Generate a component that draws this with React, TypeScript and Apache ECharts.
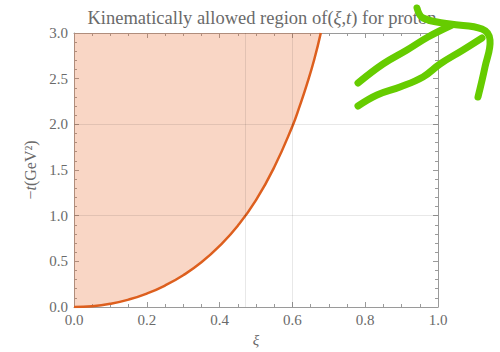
import React, { useEffect, useRef } from "react";
import * as echarts from "echarts";

// Curve -t_min(ξ)
const xiValues = [0, 0.05, 0.1, 0.15, 0.2, 0.25, 0.3, 0.35, 0.4, 0.45, 0.5, 0.55, 0.6, 0.62, 0.64, 0.66, 0.678];
const tValues = [0, 0.009, 0.036, 0.081, 0.147, 0.235, 0.348, 0.49, 0.67, 0.89, 1.17, 1.53, 1.98, 2.2, 2.44, 2.71, 3.0];

const xGridLines = [0.47, 0.6];
const yGridLines = [1.0, 2.0];

const xTicks = [0, 0.2, 0.4, 0.6, 0.8, 1.0];
const yTicks = [0, 0.5, 1.0, 1.5, 2.0, 2.5, 3.0];

const FONT = "'Liberation Serif', 'DejaVu Serif', serif";
const GREY_TEXT = "#6a6a6a";
const AXIS = "#9a9a9a";

export default function App() {
  const ref = useRef<HTMLDivElement>(null);
  useEffect(() => {
    if (!ref.current) return;
    const chart = echarts.init(ref.current, null, { renderer: "svg" });
    const curve = xiValues.map((x, i) => [x, tValues[i]]);
    const tickLine = (len: number) => ({ show: true, inside: true, length: len, lineStyle: { color: AXIS, width: 1 } });
    const axisCommon = {
      axisLine: { show: true, onZero: false, lineStyle: { color: AXIS, width: 1 } },
      splitLine: { show: false },
    };
    chart.setOption({
      animation: false,
      backgroundColor: "#fff",
      title: {
        text: "{n|Kinematically allowed region of(}{i|ξ}{n|,}{i|t}{n|) for proton}",
        left: 257,
        textAlign: "center",
        top: 3,
        textStyle: {
          rich: {
            n: { fontFamily: FONT, fontSize: 18.5, color: GREY_TEXT, fontWeight: "normal" },
            i: { fontFamily: FONT, fontSize: 18.5, color: GREY_TEXT, fontStyle: "italic", fontWeight: "normal" },
          },
        },
      },
      grid: { left: 74, right: 62, top: 33, bottom: 45 },
      xAxis: [
        {
          type: "value",
          position: "bottom",
          min: 0,
          max: 1,
          interval: 0.2,
          ...axisCommon,
          axisTick: tickLine(5),
          minorTick: { show: true, splitNumber: 4, length: 3, lineStyle: { color: AXIS } },
          axisLabel: {
            fontFamily: FONT,
            fontSize: 15,
            color: GREY_TEXT,
            margin: 5,
            formatter: (v: number) => (xTicks.includes(Math.round(v * 10) / 10) ? v.toFixed(1) : ""),
          },
          name: "ξ",
          nameLocation: "middle",
          nameGap: 25,
          nameTextStyle: { fontFamily: FONT, fontSize: 15, fontStyle: "italic", color: GREY_TEXT },
        },
        {
          type: "value",
          position: "top",
          min: 0,
          max: 1,
          interval: 0.2,
          ...axisCommon,
          axisTick: tickLine(5),
          minorTick: { show: true, splitNumber: 4, length: 3, lineStyle: { color: AXIS } },
          axisLabel: { show: false },
        },
      ],
      yAxis: [
        {
          type: "value",
          position: "left",
          min: 0,
          max: 3,
          interval: 0.5,
          ...axisCommon,
          axisTick: tickLine(5),
          minorTick: { show: true, splitNumber: 5, length: 3, lineStyle: { color: AXIS } },
          axisLabel: {
            fontFamily: FONT,
            fontSize: 15,
            color: GREY_TEXT,
            margin: 6,
            formatter: (v: number) => (yTicks.includes(Math.round(v * 10) / 10) ? v.toFixed(1) : ""),
          },
          name: "{n|−}{i|t}{n|(GeV²)}",
          nameLocation: "middle",
          nameGap: 36,
          nameRotate: 90,
          nameTextStyle: {
            rich: {
              n: { fontFamily: FONT, fontSize: 16, color: GREY_TEXT },
              i: { fontFamily: FONT, fontSize: 16, color: GREY_TEXT, fontStyle: "italic" },
            },
          },
        },
        {
          type: "value",
          position: "right",
          min: 0,
          max: 3,
          interval: 0.5,
          ...axisCommon,
          axisTick: tickLine(5),
          minorTick: { show: true, splitNumber: 5, length: 3, lineStyle: { color: AXIS } },
          axisLabel: { show: false },
        },
      ],
      series: [
        {
          type: "line",
          name: "grid",
          data: [],
          z: 1,
          markLine: {
            silent: true,
            symbol: "none",
            label: { show: false },
            lineStyle: { color: "rgba(0,0,0,0.09)", width: 1, type: "solid" },
            data: [
              ...xGridLines.map((v) => ({ xAxis: v })),
              ...yGridLines.map((v) => ({ yAxis: v })),
            ],
          },
        },
        {
          type: "line",
          name: "tmin",
          data: curve,
          smooth: true,
          symbol: "none",
          z: 3,
          lineStyle: { color: "#DD5F1E", width: 2.5 },
          areaStyle: { origin: "end", color: "rgba(232,108,48,0.4)" },
        },
      ],
      graphic: [
        {
          type: "polyline",
          z: 100,
          shape: {
            points: [[358, 83], [383, 64], [407, 50], [428, 37], [452, 25]],
            smooth: 0.4,
          },
          style: { stroke: "#66CC00", lineWidth: 7, fill: null, lineCap: "round", lineJoin: "round" },
        },
        {
          type: "polyline",
          z: 100,
          shape: {
            points: [[417, 8], [423, 18], [450, 24], [482, 29], [490, 40], [485, 67], [478, 97]],
            smooth: 0.4,
          },
          style: { stroke: "#66CC00", lineWidth: 7, fill: null, lineCap: "round", lineJoin: "round" },
        },
        {
          type: "polyline",
          z: 100,
          shape: {
            points: [[358, 106], [377, 95], [400, 87], [423, 77], [440, 64], [463, 50], [482, 38]],
            smooth: 0.4,
          },
          style: { stroke: "#66CC00", lineWidth: 7, fill: null, lineCap: "round", lineJoin: "round" },
        },
      ],
    });
    return () => chart.dispose();
  }, []);
  return <div ref={ref} style={{ position: "absolute", left: 0, top: 0, width: 500, height: 352 }} />;
}
